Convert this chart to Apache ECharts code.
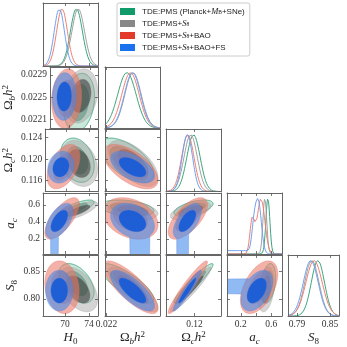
<!DOCTYPE html>
<html>
<head>
<meta charset="utf-8">
<script src="https://cdn.jsdelivr.net/npm/echarts@6/dist/echarts.min.js"></script>
<style>
html,body{margin:0;padding:0;background:#fff}
#main{width:347px;height:347px}
</style>
</head>
<body>
<div id="main"></div>
<script>
// series: green, gray, red, blue
var seriesNames = ['TDE:PMS (Planck+MB+SNe)', 'TDE:PMS+S8', 'TDE:PMS+S8+BAO', 'TDE:PMS+S8+BAO+FS'];
var legendLabels = ['TDE:PMS (Planck+{i|M}{s|B}+SNe)', 'TDE:PMS+{i|S}{s|8}', 'TDE:PMS+{i|S}{s|8}+BAO', 'TDE:PMS+{i|S}{s|8}+BAO+FS'];

// means / sigmas (H0, Ωb h², Ωc h², a_c, S8)
var h0Mean = [71.9, 72.2, 69.5, 69.05];
var h0Sig  = [1.0, 1.05, 0.9, 0.85];
var obMean = [0.02240, 0.02252, 0.02247, 0.02251];
var obSig  = [0.00018, 0.00016, 0.00017, 0.00016];
var ocMean = [0.1198, 0.1192, 0.1186, 0.1185];
var ocSig  = [0.0014, 0.0014, 0.0013, 0.0011];
var acMean = [0.56, 0.53, 0.44, 0.41];
var acSig  = [0.033, 0.036, 0.077, 0.077];
var s8Mean = [0.828, 0.817, 0.821, 0.815];
var s8Sig  = [0.012, 0.013, 0.0148, 0.0135];
// 2D contours are wider than the 1D curves suggest
var spread2d = [1.2, 1.25, 1.3, 1.1];

// correlations
var rhoH0Ob = [0.2, 0.2, 0.1, 0.05];
var rhoH0Oc = [-0.25, -0.25, 0.45, 0.15];
var rhoH0Ac = [0.75, 0.75, 0.7, 0.55];
var rhoH0S8 = [-0.45, -0.45, -0.15, 0.0];
var rhoObOc = [-0.6, -0.6, -0.6, -0.55];
var rhoObAc = [-0.3, -0.3, -0.3, -0.3];
var rhoObS8 = [-0.8, -0.8, -0.8, -0.75];
var rhoOcAc = [0.55, 0.55, 0.65, 0.6];
var rhoOcS8 = [0.95, 0.95, 0.95, 0.95];
var rhoAcS8 = [0.3, 0.3, 0.5, 0.45];

// a_c 1D marginal (peak, shoulder, low tail)
var acPeak     = [0.555, 0.515, 0.465, 0.43];
var acPeakSig  = [0.026, 0.025, 0.05, 0.04];
var acSh       = [0.35, 0.35, 0.35, 0.37];
var acShSig    = [0.03, 0.03, 0.03, 0.03];
var acShAmp    = [0, 0, 0.6, 0.42];
var acTail     = [0, 0, 0, 0.065];
var acTailEnd  = [0.3, 0.3, 0.3, 0.31];

// blue 95% region tail towards a_c -> 0 (band in the other parameter)
var tailLo = [67.6, 0.02246, 0.11627, null, 0.809];
var tailHi = [68.9, 0.02285, 0.11875, null, 0.836];

// ticks
var colTicks  = [[70, 74], [0.022], [0.12], [0.2, 0.4, 0.6], [0.79, 0.85]];
var colLabels = [[70, 74], [0.022], [0.12], [0.2, 0.6], [0.79, 0.85]];
var rowTicks  = [[], [0.0221, 0.0225, 0.0229], [0.116, 0.120, 0.124], [0.2, 0.4, 0.6], [0.80, 0.85]];
var colDigits = [0, 3, 2, 1, 2];
var rowDigits = [0, 4, 3, 1, 2];

var means = [h0Mean, obMean, ocMean, acMean, s8Mean];
var sigs = [h0Sig, obSig, ocSig, acSig, s8Sig];
var rhoOf = {'01': rhoH0Ob, '02': rhoH0Oc, '03': rhoH0Ac, '04': rhoH0S8, '12': rhoObOc,
             '13': rhoObAc, '14': rhoObS8, '23': rhoOcAc, '24': rhoOcS8, '34': rhoAcS8};

// layout
var colLeft = [43, 105, 166, 227, 288];
var colW = [55, 55, 55, 55, 51];
var rowTop = [3, 67, 129, 193, 255];
var rowH = [63, 61, 62.5, 61, 61];
var colMin = [66.33, 0.02197, 0.114, 0.02, 0.7736];
var colMax = [75.5, 0.02305, 0.1256, 0.74, 0.8664];
var rowMin = [0, 0.02194, 0.11397, 0.02, 0.7696];
var rowMax = [1.1, 0.023044, 0.12561, 0.74, 0.8786];

var legendColors = ['#129b6a', '#888888', '#e23b2b', '#1c72ee'];
var lineColors = ['#3aa57d', '#a0a0a0', '#ef7f72', '#6f9ff0'];
var fillOuter = ['rgba(100,190,150,0.35)', 'rgba(160,160,160,0.45)', 'rgba(235,120,105,0.58)', 'rgba(70,140,235,0.6)'];
var fillInner = ['rgba(20,120,80,0.5)', 'rgba(60,60,60,0.6)', 'rgba(225,90,75,0.45)', 'rgba(20,90,215,0.9)'];
var edgeColors = ['#3aa57d', 'rgba(150,150,150,0.6)', 'rgba(225,110,95,0.6)', 'rgba(90,130,220,0.6)'];

var serif = 'Liberation Serif';
var rich = {
  i: {fontFamily: serif, fontStyle: 'italic', fontSize: 13, color: '#222', lineHeight: 16},
  r: {fontFamily: serif, fontSize: 13, color: '#222', lineHeight: 16},
  s: {fontFamily: serif, fontSize: 9, color: '#222', verticalAlign: 'bottom', lineHeight: 9},
  si: {fontFamily: serif, fontStyle: 'italic', fontSize: 9, color: '#222', verticalAlign: 'bottom', lineHeight: 9},
  p: {fontFamily: serif, fontSize: 9, color: '#222', verticalAlign: 'top', lineHeight: 9}
};
var axisNames = ['{i|H}{s|0}', '{r|Ω}{si|b}{i|h}{p|2}', '{r|Ω}{si|c}{i|h}{p|2}', '{i|a}{si|c}', '{i|S}{s|8}'];

function ellipsePts(mx, my, sx, sy, r, k, n) {
  var pts = [], q = Math.sqrt(1 - r * r);
  for (var i = 0; i < n; i++) {
    var t = 2 * Math.PI * i / n;
    pts.push([mx + k * sx * Math.cos(t), my + k * sy * (r * Math.cos(t) + q * Math.sin(t))]);
  }
  return pts;
}

function withTail(pts, e, acOnY, lo, hi, end) {
  return pts.map(function (p) {
    if (acOnY) {
      var mid = e.my + e.r * e.sy / e.sx * (p[0] - e.mx);
      if (p[0] >= lo && p[0] <= hi && p[1] < mid) return [p[0], end];
    } else {
      var midx = e.mx + e.r * e.sx / e.sy * (p[1] - e.my);
      if (p[1] >= lo && p[1] <= hi && p[0] < midx) return [end, p[1]];
    }
    return p;
  });
}

function gauss(x, m, s) { return Math.exp(-0.5 * (x - m) * (x - m) / (s * s)); }

function marginal(p, d) {
  var pts = [], n = 160, lo = colMin[p], hi = colMax[p], mx = 0;
  for (var i = 0; i <= n; i++) {
    var x = lo + (hi - lo) * i / n, v;
    if (p === 3) {
      v = gauss(x, acPeak[d], acPeakSig[d]) + acShAmp[d] * gauss(x, acSh[d], acShSig[d])
        + acTail[d] / (1 + Math.exp((x - acTailEnd[d]) / 0.012));
    } else {
      v = gauss(x, means[p][d], sigs[p][d]);
    }
    mx = Math.max(mx, v);
    pts.push([x, v]);
  }
  return pts.map(function (q) { return [q[0], q[1] / mx]; });
}

var grids = [], xAxes = [], yAxes = [], series = [];
var axisLine = {show: true, onZero: false, lineStyle: {color: '#666', width: 1}};
var tickStyle = {color: '#555', width: 0.8};

for (var r = 0; r < 5; r++) {
  for (var c = 0; c <= r; c++) {
    var g = grids.length;
    grids.push({left: colLeft[c], top: rowTop[r], width: colW[c], height: rowH[r], show: false});
    var isDiag = r === c;
    (function (r, c, g, isDiag) {
      var xBase = {
        type: 'value', gridIndex: g, min: colMin[c], max: colMax[c], z: 10,
        axisLine: axisLine, splitLine: {show: false},
        axisTick: {show: true, inside: true, length: 3, lineStyle: tickStyle, customValues: colTicks[c]}
      };
      var xb = Object.assign({}, xBase, {
        position: 'bottom',
        axisLabel: {show: r === 4, customValues: colLabels[c], margin: 3, fontFamily: serif, fontSize: 9.5, color: '#333',
          formatter: function (v) { return (+v).toFixed(colDigits[c]); }}
      });
      if (r === 4) {
        xb.name = axisNames[c];
        xb.nameLocation = 'middle';
        xb.nameGap = 14;
        xb.nameTextStyle = {rich: rich};
      }
      var xt = Object.assign({}, xBase, {position: 'top', axisLabel: {show: false}});
      xAxes.push(xb, xt);

      var yBase = {
        type: 'value', gridIndex: g, min: rowMin[r], max: rowMax[r], z: 10,
        axisLine: axisLine, splitLine: {show: false},
        axisTick: {show: !isDiag, inside: true, length: 3, lineStyle: tickStyle, customValues: rowTicks[r]}
      };
      if (isDiag) { yBase.min = 0; yBase.max = 1.1; }
      var yl = Object.assign({}, yBase, {
        position: 'left',
        axisLabel: {show: c === 0 && r > 0, customValues: rowTicks[r], margin: 3, fontFamily: serif, fontSize: 9.5, color: '#333',
          formatter: function (v) { return (+v).toFixed(rowDigits[r]); }}
      });
      if (c === 0 && r > 0) {
        yl.name = axisNames[r];
        yl.nameLocation = 'middle';
        yl.nameGap = 24;
        yl.nameTextStyle = {rich: rich};
      }
      var yr = Object.assign({}, yBase, {position: 'right', axisLabel: {show: false}});
      yAxes.push(yl, yr);

      for (var d = 0; d < 4; d++) {
        if (isDiag) {
          series.push({
            name: seriesNames[d], type: 'line', xAxisIndex: 2 * g, yAxisIndex: 2 * g,
            data: marginal(c, d), showSymbol: false, smooth: false, z: 2 + d,
            lineStyle: {color: lineColors[d], width: 1}, itemStyle: {color: legendColors[d]}
          });
        } else {
          (function (d) {
            var key = '' + c + r, k = spread2d[d];
            var e = {mx: means[c][d], my: means[r][d], sx: sigs[c][d] * k, sy: sigs[r][d] * k, r: rhoOf[key][d]};
            series.push({
              name: seriesNames[d], type: 'custom', coordinateSystem: 'cartesian2d',
              xAxisIndex: 2 * g, yAxisIndex: 2 * g, clip: true, z: 2 + d,
              itemStyle: {color: legendColors[d]},
              data: [[e.mx, e.my]],
              renderItem: function (params, api) {
                var outer = ellipsePts(e.mx, e.my, e.sx, e.sy, e.r, 2.448, 400);
                var inner = ellipsePts(e.mx, e.my, e.sx, e.sy, e.r, 1.515, 300);
                if (d === 3 && (r === 3 || c === 3)) {
                  if (r === 3) outer = withTail(outer, e, true, tailLo[c], tailHi[c], rowMin[3] - 0.1);
                  else outer = withTail(outer, e, false, tailLo[r], tailHi[r], colMin[3] - 0.1);
                }
                var px = function (pts) { return pts.map(function (p) { return api.coord(p); }); };
                return {type: 'group', children: [
                  {type: 'polygon', shape: {points: px(outer)},
                    style: {fill: fillOuter[d], stroke: edgeColors[d], lineWidth: d === 0 ? 0.9 : 0.6}},
                  {type: 'polygon', shape: {points: px(inner)},
                    style: {fill: fillInner[d], stroke: edgeColors[d], lineWidth: d === 0 ? 0.9 : 0.5}}
                ]};
              }
            });
          })(d);
        }
      }
    })(r, c, g, isDiag);
  }
}

var chart = echarts.init(document.getElementById('main'));
chart.setOption({
  animation: false,
  backgroundColor: '#fff',
  grid: grids,
  xAxis: xAxes,
  yAxis: yAxes,
  legend: {
    left: 117, top: 3, orient: 'vertical', selectedMode: false,
    itemWidth: 15, itemHeight: 7, itemGap: 3,
    padding: [4, 5, 4, 3], borderColor: '#ccc', borderWidth: 1, borderRadius: 2, backgroundColor: '#fff',
    data: seriesNames.map(function (n, i) { return {name: n, icon: 'rect', itemStyle: {color: legendColors[i]}}; }),
    formatter: function (n) { return legendLabels[seriesNames.indexOf(n)]; },
    textStyle: {fontFamily: 'Liberation Sans', fontSize: 8, color: '#222', lineHeight: 9, padding: [0, 0, 0, 2],
      rich: {
        i: {fontFamily: serif, fontStyle: 'italic', fontSize: 8.5, color: '#222'},
        s: {fontFamily: serif, fontSize: 5.5, color: '#222', verticalAlign: 'bottom', lineHeight: 6}
      }}
  },
  series: series
});
</script>
</body>
</html>
